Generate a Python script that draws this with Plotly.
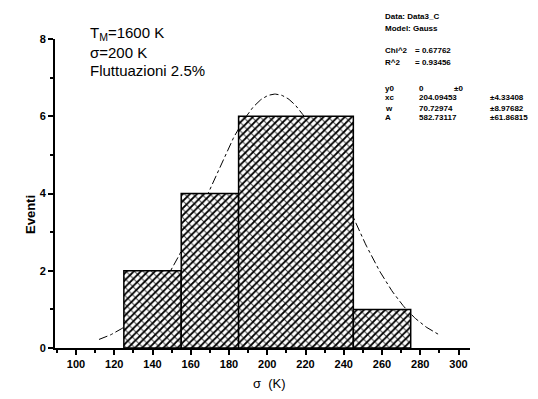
import numpy as np
import plotly.graph_objects as go

# Histogram of sigma values (bin edges in K) and event counts
bin_edges = [125, 155, 185, 245, 275]
counts = [2, 4, 6, 1]

# Gaussian fit parameters (Origin "Gauss" model)
y0 = 0.0
xc = 204.09453
w = 70.72974
A = 582.73117
fit_range = [112, 290]

fit_lines = [
    ("Data: Data3_C", None, None),
    ("Model: Gauss", None, None),
    ("Chi^2", "= 0.67762", None),
    ("R^2", "= 0.93456", None),
    ("y0", "0", "\u00b10"),
    ("xc", "204.09453", "\u00b14.33408"),
    ("w", "70.72974", "\u00b18.97682"),
    ("A", "582.73117", "\u00b161.86815"),
]

xf = np.linspace(fit_range[0], fit_range[1], 300)
yf = y0 + A / (w * np.sqrt(np.pi / 2)) * np.exp(-2 * ((xf - xc) / w) ** 2)

fig = go.Figure()
# fit curve first, so the hatched bins are painted over it
fig.add_trace(go.Scatter(
    x=xf, y=yf, mode="lines",
    line=dict(color="black", width=1, dash="dashdot"),
    showlegend=False, hoverinfo="skip",
))
# each histogram bin as a closed polygon: dense "/" hatch, lighter "\" over it
for a, b, h in zip(bin_edges[:-1], bin_edges[1:], counts):
    xs, ys = [a, a, b, b, a], [0, h, h, 0, 0]
    fig.add_trace(go.Scatter(
        x=xs, y=ys, mode="lines", fill="toself", fillcolor="white",
        fillpattern=dict(shape="/", fgcolor="black", bgcolor="white",
                         size=5, solidity=0.35, fillmode="replace"),
        line=dict(color="rgba(0,0,0,0)", width=0),
        showlegend=False, hoverinfo="skip",
    ))
    fig.add_trace(go.Scatter(
        x=xs, y=ys, mode="lines", fill="toself", fillcolor="rgba(0,0,0,0)",
        fillpattern=dict(shape="\\", fgcolor="rgba(0,0,0,0.7)",
                         bgcolor="rgba(0,0,0,0)", size=6, solidity=0.18,
                         fillmode="replace"),
        line=dict(color="black", width=1.5),
        showlegend=False, hoverinfo="skip",
    ))

# plot-area geometry in pixels
L, R, T, B = 55, 470, 39, 348
W, H = R - L, B - T


def px(x):
    return (x - L) / W


def py(y):
    return (B - y) / H


tick_font = dict(family="Arial", size=11, color="black", weight="bold")
fig.update_layout(
    width=538, height=399,
    margin=dict(l=L, r=538 - R, t=T, b=399 - B),
    paper_bgcolor="white", plot_bgcolor="white",
    xaxis=dict(
        range=[89, 306], tickvals=list(range(100, 301, 20)),
        showline=True, linecolor="black", linewidth=2,
        ticks="outside", ticklen=5, tickwidth=1.5, tickcolor="black",
        minor=dict(dtick=10, tick0=0, ticks="outside", ticklen=3, tickcolor="black"),
        showgrid=False, zeroline=False, tickfont=tick_font,
    ),
    yaxis=dict(
        range=[0, 8], tickvals=[0, 2, 4, 6, 8],
        showline=True, linecolor="black", linewidth=2,
        ticks="outside", ticklen=5, tickwidth=1.5, tickcolor="black",
        minor=dict(dtick=1, tick0=0, ticks="outside", ticklen=3, tickcolor="black"),
        showgrid=False, zeroline=False, tickfont=tick_font,
    ),
)

anns = []
# axis titles
anns.append(dict(text="<b>Eventi</b>", x=px(30), y=py(215), textangle=-90,
                 font=dict(family="Arial", size=13, color="black")))
anns.append(dict(text="\u03c3  (K)", x=px(269), y=py(383),
                 font=dict(family="Arial", size=13, color="black")))

# simulation parameters
for txt, yy in [("T<sub>M</sub>=1600 K", 33), ("\u03c3=200 K", 52),
                ("Fluttuazioni 2.5%", 70)]:
    anns.append(dict(text=txt, x=px(88), y=py(yy), xanchor="left",
                     font=dict(family="Arial", size=15, color="black")))

# fit report
rows_y = [16, 28, 51, 62, 88, 98, 108, 118]
small = dict(family="Arial", size=8, color="black", weight="bold")
for (lab, val, err), yy in zip(fit_lines, rows_y):
    anns.append(dict(text=lab, x=px(383), y=py(yy), xanchor="left", font=small))
    if val is not None:
        vx = 413 if val.startswith("=") else 417
        anns.append(dict(text=val, x=px(vx), y=py(yy), xanchor="left", font=small))
    if err is not None:
        ex = 452 if err == "\u00b10" else 488
        anns.append(dict(text=err, x=px(ex), y=py(yy), xanchor="left", font=small))

for a in anns:
    a.update(xref="paper", yref="paper", showarrow=False)
    a.setdefault("xanchor", "center")
    a.setdefault("yanchor", "middle")
fig.update_layout(annotations=anns)

fig.write_html("out.html")
